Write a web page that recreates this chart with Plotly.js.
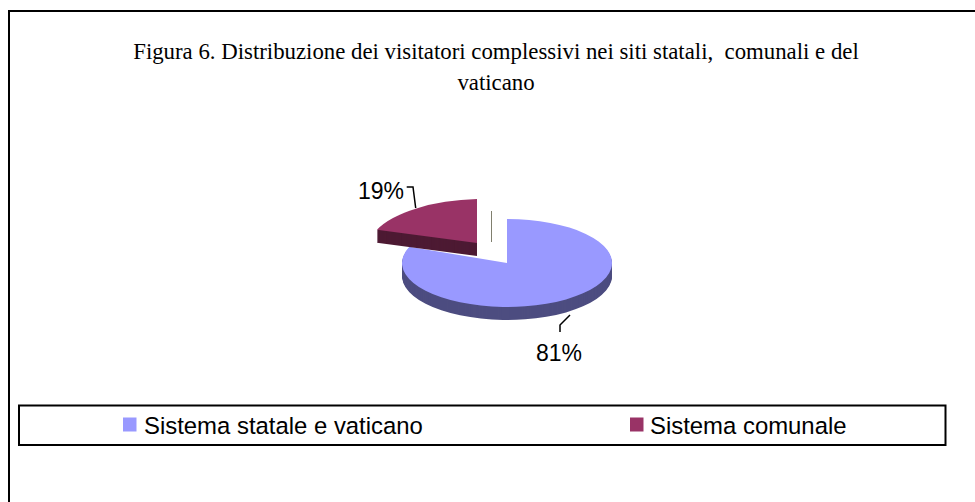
<!DOCTYPE html>
<html><head><meta charset="utf-8">
<script src="https://cdn.plot.ly/plotly-3.0.1.min.js"></script>
<style>html,body{margin:0;padding:0;background:#fff;overflow:hidden}#c{width:975px;height:502px}</style>
</head><body><div id="c"></div>
<script>
const categories = ['Sistema statale e vaticano', 'Sistema comunale'];
const shares = [81, 19];
const faceColors = ['#9999FF', '#993366'];
const wallColors = ['#4D4D80', '#4D1A33'];
const titleText = 'Figura 6. Distribuzione dei visitatori complessivi nei siti statali,&nbsp; comunali e del<br>vaticano';

const W = 975, H = 502, R = 105, SQUASH = 44 / 105, DEPTH = 13;
const centres = [{x: 507, y: 263, sx: 1, shear: 0}, {x: 477, y: 243, sx: 1.025, shear: -0.03}];
const X = v => v / W, Y = v => 1 - v / H;
const transparent = 'rgba(0,0,0,0)';

const traces = [], offsets = [];
[0, 1].forEach(i => {
  const c = centres[i];
  for (let d = DEPTH; d >= 0; d--) {
    const col = d === 0 ? faceColors[i] : wallColors[i];
    traces.push({
      type: 'pie', labels: categories, values: shares, sort: false,
      direction: 'clockwise', rotation: 0, textinfo: 'none', hoverinfo: 'skip',
      showlegend: false,
      marker: {colors: categories.map((_, j) => j === i ? col : transparent), line: {width: 0}},
      domain: {x: [X(c.x - R), X(c.x + R)], y: [Y(c.y + R), Y(c.y - R)]}
    });
    offsets.push({c, d});
  }
});

const line = (pts, color, width) => ({
  type: 'path', xref: 'paper', yref: 'paper',
  path: 'M' + pts.map(p => X(p[0]) + ',' + Y(p[1])).join('L'),
  line: {color, width}
});
const box = (x0, y0, x1, y1, extra) => Object.assign({
  type: 'rect', xref: 'paper', yref: 'paper',
  x0: X(x0), x1: X(x1), y0: Y(y0), y1: Y(y1)
}, extra);
const label = (text, x, y, size, anchor) => ({
  text, xref: 'paper', yref: 'paper', x: X(x), y: Y(y), showarrow: false,
  xanchor: anchor, yanchor: 'middle', align: anchor,
  font: {family: '"Liberation Sans", Arial, sans-serif', size, color: '#000'}
});

const layout = {
  width: W, height: H, margin: {l: 0, r: 0, t: 0, b: 0},
  paper_bgcolor: '#fff', plot_bgcolor: '#fff', showlegend: false,
  title: {
    text: titleText, x: 496 / W, xanchor: 'center', y: 1 - 46 / H, yanchor: 'top',
    font: {family: '"Liberation Serif", "Times New Roman", serif', size: 22.8, color: '#000'}
  },
  shapes: [
    line([[9, 510], [9, 11], [990, 11]], '#000', 2),
    box(19, 405.5, 945.5, 445, {line: {color: '#000', width: 2}}),
    box(123, 417.5, 136.5, 431.5, {fillcolor: faceColors[0], line: {width: 0}}),
    box(630, 417.5, 643.5, 431.5, {fillcolor: faceColors[1], line: {width: 0}}),
    line([[406.7, 187], [413, 187], [415.7, 208]], '#000', 1.5),
    line([[560, 332], [560, 325], [570, 315]], '#000', 1.5),
    line([[491.5, 211], [491.5, 242]], '#807F6E', 1)
  ],
  annotations: [
    label(shares[1] + '%', 381, 191, 23, 'center'),
    label(shares[0] + '%', 558.5, 353, 23, 'center'),
    label(categories[0], 142, 425, 23.9, 'left'),
    label(categories[1], 648, 425, 23.9, 'left')
  ]
};

Plotly.newPlot('c', traces, layout, {displayModeBar: false, staticPlot: true}).then(gd => {
  gd.querySelectorAll('.pielayer g.trace').forEach((g, i) => {
    const o = offsets[i], c = o.c;
    // x' = cx + sx (x - cx);  y' = cy + d + k (y - cy) + shear (x - cx)
    g.setAttribute('transform', 'matrix(' + [
      c.sx, c.shear, 0, SQUASH,
      c.x - c.sx * c.x,
      c.y + o.d - SQUASH * c.y - c.shear * c.x
    ].join(',') + ')');
  });
  const lines = gd.querySelectorAll('.gtitle tspan.line');
  if (lines.length > 1) {
    lines[0].setAttribute('y', 59);
    lines[1].removeAttribute('dy');
    lines[1].setAttribute('y', 90);
  }
});
</script></body></html>
